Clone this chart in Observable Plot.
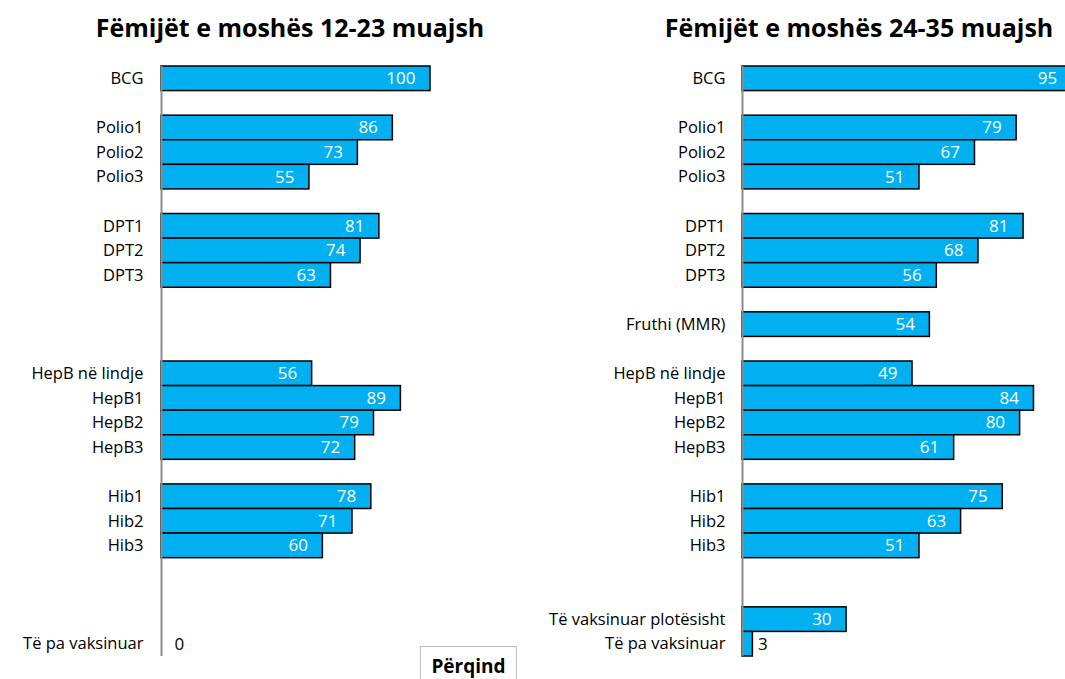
<!DOCTYPE html>
<html>
<head>
<meta charset="utf-8">
<script src="https://cdn.jsdelivr.net/npm/d3@7"></script>
<script src="https://cdn.jsdelivr.net/npm/@observablehq/plot@0.6"></script>
<style>
  html, body { margin: 0; padding: 0; background: #fff; overflow: hidden; }
  #wrap { position: relative; width: 1065px; height: 679px; overflow: hidden; font-family: "Open Sans", sans-serif; }
  .title { position: absolute; top: 10px; font-weight: bold; font-size: 25px; line-height: 34px; color: #000; text-align: center; white-space: nowrap; }
  .panel { position: absolute; top: 0; left: 0; }
  .panel svg { max-width: none !important; }
  #unit { position: absolute; left: 420px; top: 646px; width: 97px; height: 40px; border: 1.5px solid #bdbdbd; box-sizing: border-box;
          font-weight: bold; font-size: 19px; text-align: center; line-height: 38px; background: #fff; }
</style>
</head>
<body>
<div id="wrap">
  <div class="title" id="t1" style="left:90px;width:400px;"></div>
  <div class="title" id="t2" style="left:659px;width:400px;"></div>
  <div class="panel" id="p1"></div>
  <div class="panel" id="p2"></div>
  <div id="unit"></div>
</div>
<script>
// ---- data ----
const titleLeft = "Fëmijët e moshës 12-23 muajsh";
const titleRight = "Fëmijët e moshës 24-35 muajsh";
const unitLabel = "Përqind";

// row labels (empty strings are gaps between groups)
const labelsLeft = ["BCG","","Polio1","Polio2","Polio3","","DPT1","DPT2","DPT3","","","",
  "HepB në lindje","HepB1","HepB2","HepB3","","Hib1","Hib2","Hib3","","","","Të pa vaksinuar"];
const labelsRight = ["BCG","","Polio1","Polio2","Polio3","","DPT1","DPT2","DPT3","","Fruthi (MMR)","",
  "HepB në lindje","HepB1","HepB2","HepB3","","Hib1","Hib2","Hib3","","","Të vaksinuar plotësisht","Të pa vaksinuar"];

// percentages (null = no bar)
const values12_23 = [100,null,86,73,55,null,81,74,63,null,null,null,56,89,79,72,null,78,71,60,null,null,null,0];
const values24_35 = [95,null,79,67,51,null,81,68,56,null,54,null,49,84,80,61,null,75,63,51,null,null,30,3];

document.getElementById("t1").textContent = titleLeft;
document.getElementById("t2").textContent = titleRight;
document.getElementById("unit").textContent = unitLabel;

function panel(labels, values, marginLeft, width, pxPerUnit, padLabel, padSmall) {
  const rows = labels.map((label, i) => ({i, label, value: values[i]}));
  const bars = rows.filter(d => d.value != null);
  const domain = rows.map(d => d.i);
  return Plot.plot({
    width, height: 679,
    marginLeft, marginRight: width - marginLeft - 100 * pxPerUnit,
    marginTop: 66, marginBottom: 23,
    style: {fontFamily: "'Open Sans', sans-serif", fontSize: "16px", color: "#000", background: "transparent", overflow: "visible", maxWidth: "none"},
    x: {domain: [0, 100], axis: null},
    y: {domain, padding: 0, round: false, axis: null},
    marks: [
      Plot.barX(bars, {x: "value", y: "i", fill: "#00B0F0", stroke: "#000", strokeWidth: 1.5}),
      Plot.ruleX([0], {stroke: "#8c8c8c", strokeWidth: 2}),
      Plot.axisY({ticks: rows.filter(d => d.label).map(d => d.i), tickFormat: i => labels[i],
        tickSize: 0, tickPadding: padLabel, fontSize: 16.5, label: null}),
      Plot.text(bars.filter(d => d.value >= 10), {x: "value", y: "i", text: d => String(d.value),
        textAnchor: "end", dx: -15, fill: "#fff", fontSize: 17}),
      Plot.text(bars.filter(d => d.value < 10), {x: "value", y: "i", text: d => String(d.value),
        textAnchor: "start", dx: padSmall, fill: "#000", fontSize: 17})
    ]
  });
}

document.getElementById("p1").append(panel(labelsLeft, values12_23, 161, 540, 2.69, 18, 13));
document.getElementById("p2").append(panel(labelsRight, values24_35, 742, 1100, 3.47, 17, 5));
</script>
</body>
</html>
